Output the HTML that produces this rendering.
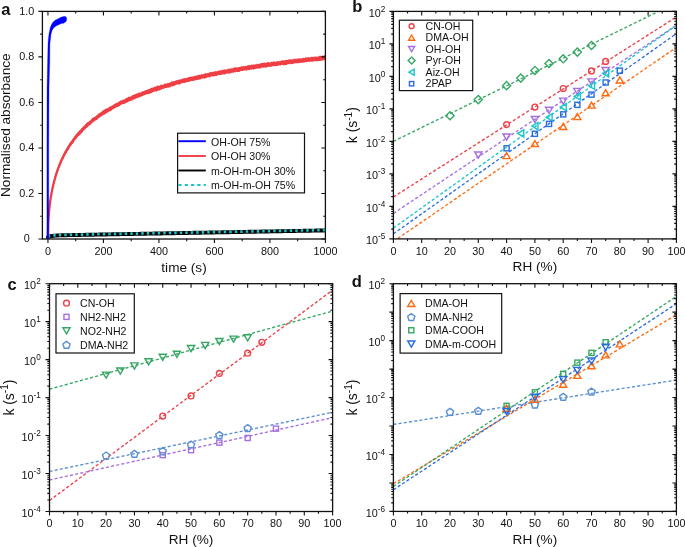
<!DOCTYPE html>
<html><head><meta charset="utf-8"><style>
html,body{margin:0;padding:0;background:#fff;width:685px;height:547px;overflow:hidden}
svg{display:block;will-change:transform}
text{font-family:"Liberation Sans",sans-serif}
</style></head><body>
<svg width="685" height="547" viewBox="0 0 685 547" font-family="'Liberation Sans', sans-serif" fill="#111">
<rect width="685" height="547" fill="#fff"/>
<defs>
<clipPath id="ca"><rect x="42.4" y="11.4" width="283" height="227.6"/></clipPath>
<clipPath id="cb"><rect x="393.4" y="11.4" width="283" height="227.5"/></clipPath>
<clipPath id="cc"><rect x="49.5" y="283.7" width="283.1" height="227.8"/></clipPath>
<clipPath id="cd"><rect x="393.4" y="283.7" width="283" height="227.7"/></clipPath>
</defs>
<g clip-path="url(#ca)" fill="none" stroke-linejoin="round" stroke-linecap="round">
<path d="M47.95 237L48.64 236.76L49.34 236.55L50.03 236.38L50.72 236.23L51.42 236.1L52.11 235.99L52.8 235.89L53.5 235.81L54.19 235.73L54.89 235.67L55.58 235.61L56.27 235.56L56.97 235.52L57.66 235.48L58.35 235.45L59.05 235.42L59.74 235.39L60.43 235.36L61.13 235.34L61.82 235.31L62.52 235.29L63.21 235.27L63.9 235.26L64.6 235.24L66.79 235.19L68.98 235.14L71.17 235.09L73.36 235.05L75.55 235.01L77.75 234.97L79.94 234.93L82.13 234.89L84.32 234.85L86.51 234.81L88.7 234.77L90.9 234.73L93.09 234.68L95.28 234.64L97.47 234.6L99.66 234.56L101.85 234.52L104.05 234.48L106.24 234.44L108.43 234.4L110.62 234.36L112.81 234.32L115 234.28L117.2 234.24L119.39 234.2L121.58 234.16L123.77 234.12L125.96 234.08L128.15 234.04L130.34 234L132.54 233.96L134.73 233.92L136.92 233.88L139.11 233.84L141.3 233.79L143.49 233.75L145.69 233.71L147.88 233.67L150.07 233.63L152.26 233.59L154.45 233.55L156.64 233.51L158.84 233.47L161.03 233.43L163.22 233.39L165.41 233.35L167.6 233.31L169.79 233.27L171.99 233.23L174.18 233.19L176.37 233.15L178.56 233.11L180.75 233.07L182.94 233.03L185.14 232.99L187.33 232.95L189.52 232.9L191.71 232.86L193.9 232.82L196.09 232.78L198.29 232.74L200.48 232.7L202.67 232.66L204.86 232.62L207.05 232.58L209.24 232.54L211.44 232.5L213.63 232.46L215.82 232.42L218.01 232.38L220.2 232.34L222.39 232.3L224.59 232.26L226.78 232.22L228.97 232.18L231.16 232.14L233.35 232.1L235.54 232.06L237.73 232.01L239.93 231.97L242.12 231.93L244.31 231.89L246.5 231.85L248.69 231.81L250.88 231.77L253.08 231.73L255.27 231.69L257.46 231.65L259.65 231.61L261.84 231.57L264.03 231.53L266.23 231.49L268.42 231.45L270.61 231.41L272.8 231.37L274.99 231.33L277.18 231.29L279.38 231.25L281.57 231.21L283.76 231.17L285.95 231.12L288.14 231.08L290.33 231.04L292.53 231L294.72 230.96L296.91 230.92L299.1 230.88L301.29 230.84L303.48 230.8L305.68 230.76L307.87 230.72L310.06 230.68L312.25 230.64L314.44 230.6L316.63 230.56L318.83 230.52L321.02 230.48L323.21 230.44L325.4 230.4" stroke="#000" stroke-width="3.9"/>
<path d="M47.95 236.66L48.64 236.42L49.34 236.21L50.03 236.04L50.72 235.88L51.42 235.76L52.11 235.64L52.8 235.55L53.5 235.46L54.19 235.39L54.89 235.33L55.58 235.27L56.27 235.22L56.97 235.18L57.66 235.14L58.35 235.11L59.05 235.07L59.74 235.05L60.43 235.02L61.13 235L61.82 234.97L62.52 234.95L63.21 234.93L63.9 234.91L64.6 234.9L66.79 234.84L68.98 234.8L71.17 234.75L73.36 234.71L75.55 234.67L77.75 234.63L79.94 234.59L82.13 234.55L84.32 234.51L86.51 234.46L88.7 234.42L90.9 234.38L93.09 234.34L95.28 234.3L97.47 234.26L99.66 234.22L101.85 234.18L104.05 234.14L106.24 234.1L108.43 234.06L110.62 234.02L112.81 233.98L115 233.94L117.2 233.9L119.39 233.86L121.58 233.82L123.77 233.78L125.96 233.74L128.15 233.7L130.34 233.66L132.54 233.62L134.73 233.57L136.92 233.53L139.11 233.49L141.3 233.45L143.49 233.41L145.69 233.37L147.88 233.33L150.07 233.29L152.26 233.25L154.45 233.21L156.64 233.17L158.84 233.13L161.03 233.09L163.22 233.05L165.41 233.01L167.6 232.97L169.79 232.93L171.99 232.89L174.18 232.85L176.37 232.81L178.56 232.77L180.75 232.73L182.94 232.68L185.14 232.64L187.33 232.6L189.52 232.56L191.71 232.52L193.9 232.48L196.09 232.44L198.29 232.4L200.48 232.36L202.67 232.32L204.86 232.28L207.05 232.24L209.24 232.2L211.44 232.16L213.63 232.12L215.82 232.08L218.01 232.04L220.2 232L222.39 231.96L224.59 231.92L226.78 231.88L228.97 231.84L231.16 231.79L233.35 231.75L235.54 231.71L237.73 231.67L239.93 231.63L242.12 231.59L244.31 231.55L246.5 231.51L248.69 231.47L250.88 231.43L253.08 231.39L255.27 231.35L257.46 231.31L259.65 231.27L261.84 231.23L264.03 231.19L266.23 231.15L268.42 231.11L270.61 231.07L272.8 231.03L274.99 230.99L277.18 230.95L279.38 230.9L281.57 230.86L283.76 230.82L285.95 230.78L288.14 230.74L290.33 230.7L292.53 230.66L294.72 230.62L296.91 230.58L299.1 230.54L301.29 230.5L303.48 230.46L305.68 230.42L307.87 230.38L310.06 230.34L312.25 230.3L314.44 230.26L316.63 230.22L318.83 230.18L321.02 230.14L323.21 230.1L325.4 230.06" stroke="#18c6c9" stroke-width="2.7" stroke-dasharray="2.4 3.1" stroke-linecap="butt"/>
<path d="M47.95 239L48.14 226.47L48.33 221.99L48.52 218.61L48.71 215.82L48.91 213.39L49.1 211.22L49.29 209.24L49.48 207.43L49.67 205.74L49.86 204.16L50.05 202.66L50.25 201.25L50.44 199.91L50.63 198.63L50.82 197.4L51.01 196.22L51.2 195.08L51.39 193.99L51.58 192.93L51.78 191.91L51.97 190.92L52.16 189.96L52.35 189.02L52.54 188.11L52.73 187.23L52.92 186.37L53.12 185.53L53.31 184.71L53.5 183.91L55.21 177.45L56.92 171.96L58.63 167.17L60.34 162.91L62.05 159.06L63.76 155.56L65.47 152.34L67.18 149.36L68.89 146.59L70.6 144L72.31 141.57L74.02 139.28L75.73 137.11L77.44 135.06L79.15 133.12L80.86 131.26L82.57 129.49L84.28 127.8L85.99 126.18L87.7 124.63L89.41 123.14L91.12 121.71L92.83 120.33L94.54 119L96.25 117.72L97.96 116.48L99.67 115.28L101.38 114.12L103.09 112.99L104.8 111.9L106.51 110.85L108.22 109.82L109.93 108.82L111.64 107.85L113.35 106.9L115.06 105.98L116.77 105.08L118.48 104.2L120.19 103.35L121.9 102.51L123.61 101.7L125.32 100.9L127.03 100.12L128.74 99.35L130.45 98.6L132.16 97.87L133.87 97.15L135.58 96.45L137.29 95.75L139 95.08L140.71 94.41L142.42 93.75L144.13 93.11L145.84 92.48L147.55 91.86L149.26 91.25L150.97 90.65L152.68 90.06L154.39 89.49L156.1 88.92L157.81 88.36L159.52 87.81L161.23 87.26L162.94 86.73L164.65 86.21L166.36 85.69L168.07 85.18L169.78 84.68L171.49 84.19L173.2 83.7L174.91 83.23L176.62 82.75L178.33 82.29L180.04 81.83L181.75 81.38L183.46 80.94L185.17 80.5L186.88 80.07L188.59 79.64L190.3 79.22L192.01 78.81L193.72 78.4L195.43 78L197.14 77.6L198.85 77.21L200.56 76.82L202.27 76.44L203.98 76.06L205.69 75.69L207.4 75.32L209.11 74.96L210.82 74.6L212.54 74.25L214.25 73.9L215.96 73.55L217.67 73.21L219.38 72.88L221.09 72.55L222.8 72.22L224.51 71.89L226.22 71.57L227.93 71.26L229.64 70.94L231.35 70.63L233.06 70.33L234.77 70.03L236.48 69.73L238.19 69.43L239.9 69.14L241.61 68.85L243.32 68.57L245.03 68.29L246.74 68.01L248.45 67.73L250.16 67.46L251.87 67.19L253.58 66.92L255.29 66.66L257 66.39L258.71 66.14L260.42 65.88L262.13 65.63L263.84 65.38L265.55 65.13L267.26 64.88L268.97 64.64L270.68 64.4L272.39 64.16L274.1 63.93L275.81 63.69L277.52 63.46L279.23 63.23L280.94 63.01L282.65 62.78L284.36 62.56L286.07 62.34L287.78 62.13L289.49 61.91L291.2 61.7L292.91 61.48L294.62 61.28L296.33 61.07L298.04 60.86L299.75 60.66L301.46 60.46L303.17 60.26L304.88 60.06L306.59 59.86L308.3 59.67L310.01 59.47L311.72 59.28L313.43 59.09L315.14 58.91L316.85 58.72L318.56 58.54L320.27 58.35L321.98 58.17L323.69 57.99L325.4 57.81" stroke="#ef3e44" stroke-width="2.3"/>
<path d="M47.95 236.65L48.45 217.49L48.95 210.53L49.45 205.36L49.95 201.13L50.45 197.48L50.95 194.25L51.45 191.33L51.95 188.66L52.45 186.2L52.95 183.91L53.45 181.76L54.2 178.7L54.95 175.64L55.7 173.28L56.45 171.44L57.2 168.54L57.95 166.64L58.7 165.03L59.45 162.31L60.2 160.99L60.95 159.57L61.7 157.24L62.45 155.92L63.2 154.71L63.95 152.52L64.7 151.45L65.45 150.26L66.2 148.86L66.95 147.38L67.7 145.9L68.45 144.94L69.2 143.65L69.95 142.61L70.7 141.39L71.44 140.74L72.19 139.62L72.94 138.19L73.69 137.42L74.44 136.18L75.19 135.39L75.94 134.37L76.69 133.74L77.44 132.59L78.19 131.81L78.94 131.19L79.69 130.09L80.44 129.72L81.19 128.27L81.94 128L82.69 126.95L83.44 126.21L84.19 125.66L84.94 124.84L85.69 124.04L86.44 122.97L87.19 122.37L87.94 122.26L88.69 121.44L89.44 120.94L90.19 120.54L90.94 119.67L91.69 118.49L92.44 118.12L93.19 117.78L93.94 116.88L94.69 116.95L95.44 116.37L96.19 115.73L96.94 114.84L97.69 114.63L98.44 113.46L99.19 113.09L99.94 112.71L100.69 112.45L101.44 111.72L102.19 110.91L102.94 110.6L103.69 110.1L104.44 109.6L105.19 109.01L105.94 108.77L106.69 108.34L107.44 108.18L108.19 107.75L108.94 107.07L109.69 106.57L110.44 106.43L111.19 106.1L111.94 105.49L112.69 105.19L113.44 104.9L114.19 103.68L114.94 104.03L115.69 103.1L116.44 102.88L117.19 102.78L117.94 102.33L118.69 101.43L119.44 101.52L120.19 100.61L120.94 100.51L121.69 100.55L122.44 99.84L123.19 99.64L123.94 99.4L124.69 99.13L125.44 98.73L126.19 97.71L126.94 97.74L127.68 97.44L128.43 96.74L129.18 96.85L129.93 96.58L130.68 96.45L131.43 96.23L132.18 95.18L132.93 94.95L133.68 95.02L134.43 94.24L135.18 94.01L135.93 94.02L136.68 93.35L137.43 93.6L138.18 93.37L138.93 92.33L139.68 92.49L140.43 92.43L141.18 92.31L141.93 91.39L142.68 91.01L143.43 91.36L144.18 91.11L144.93 90.19L145.68 90.14L146.43 90.11L147.18 89.96L147.93 89.08L148.68 89.26L149.43 89.12L150.18 88.62L150.93 88.02L151.68 87.64L152.43 87.6L153.18 87.82L153.93 86.88L154.68 86.6L155.43 86.67L156.18 86.15L156.93 85.98L157.68 85.62L158.43 85.83L159.18 85.74L159.93 85.26L160.68 84.76L161.43 84.7L162.18 84.7L162.93 84.78L163.68 84.6L164.43 83.69L165.18 83.26L165.93 83.77L166.68 83.63L167.43 82.99L168.18 83.05L168.93 82.91L169.68 82.46L170.43 82.48L171.18 81.5L171.93 81.51L172.68 81.3L173.43 80.95L174.18 81.45L174.93 80.45L175.68 80.82L176.43 80.07L177.18 80.13L177.93 79.98L178.68 79.56L179.43 79.67L180.18 79.48L180.93 79.09L181.68 79.27L182.43 78.55L183.18 78.39L183.92 78.34L184.67 78.17L185.42 77.82L186.17 78.27L186.92 78L187.67 77.17L188.42 77.22L189.17 76.91L189.92 76.92L190.67 76.58L191.42 76.6L192.17 76.8L192.92 76.13L193.67 76.2L194.42 75.97L195.17 75.93L195.92 75.14L196.67 75.58L197.42 75.59L198.17 75.11L198.92 74.65L199.67 74.83L200.42 74.69L201.17 74.47L201.92 73.85L202.67 74.43L203.42 74.24L204.17 73.6L204.92 73.59L205.67 72.93L206.42 73.62L207.17 73.31L207.92 72.99L208.67 72.94L209.42 72.26L210.17 72.22L210.92 72L211.67 72.16L212.42 71.55L213.17 72.12L213.92 71.58L214.67 71.41L215.42 70.96L216.17 71.33L216.92 71.3L217.67 70.98L218.42 70.48L219.17 70.82L219.92 70.1L220.67 70.57L221.42 70.2L222.17 69.8L222.92 69.86L223.67 69.82L224.42 69.34L225.17 69.73L225.92 69.21L226.67 69.49L227.42 69.3L228.17 68.5L228.92 68.86L229.67 68.42L230.42 68.68L231.17 68.35L231.92 68.14L232.67 68.4L233.42 67.52L234.17 67.83L234.92 67.5L235.67 67.1L236.42 67.62L237.17 67.31L237.92 67.48L238.67 67.09L239.42 66.73L240.17 67.18L240.91 66.27L241.66 66.09L242.41 66.58L243.16 66.13L243.91 65.99L244.66 66.33L245.41 65.72L246.16 66.1L246.91 65.76L247.66 65.35L248.41 64.99L249.16 65.04L249.91 65.57L250.66 64.94L251.41 64.6L252.16 64.61L252.91 65.03L253.66 64.26L254.41 64.69L255.16 64L255.91 64.63L256.66 64.12L257.41 63.57L258.16 64.26L258.91 63.63L259.66 63.85L260.41 63.55L261.16 63.05L261.91 62.95L262.66 62.88L263.41 62.78L264.16 62.58L264.91 62.46L265.66 63.17L266.41 62.29L267.16 62.56L267.91 62.1L268.66 62.08L269.41 62.47L270.16 62.52L270.91 61.99L271.66 61.47L272.41 62.26L273.16 61.3L273.91 61.5L274.66 61.54L275.41 61.75L276.16 61.59L276.91 61.29L277.66 61L278.41 61.3L279.16 61.23L279.91 61.13L280.66 60.89L281.41 60.23L282.16 60.32L282.91 60.39L283.66 60.31L284.41 60.51L285.16 59.87L285.91 60.16L286.66 59.8L287.41 60.07L288.16 59.45L288.91 59.61L289.66 59.18L290.41 59.19L291.16 59.74L291.91 59.09L292.66 59.52L293.41 59.1L294.16 58.57L294.91 59.15L295.66 58.4L296.41 59L297.15 58.18L297.9 58.68L298.65 58.14L299.4 58.21L300.15 58.67L300.9 58.16L301.65 58.23L302.4 58.21L303.15 57.56L303.9 58.13L304.65 58.11L305.4 57.34L306.15 57.6L306.9 57.28L307.65 57.61L308.4 56.88L309.15 57.23L309.9 57.4L310.65 57.26L311.4 56.62L312.15 57.18L312.9 56.57L313.65 57L314.4 56.63L315.15 56.25L315.9 56.68L316.65 56.67L317.4 56.49L318.15 56.65L318.9 55.93L319.65 55.83L320.4 55.67L321.15 55.94L321.9 55.74L322.65 55.62L323.4 55.64L324.15 55.39L324.9 55.07L325.65 55.44L325.65 60.29L324.9 60.45L324.15 60L323.4 60.15L322.65 60.47L321.9 60.82L321.15 60.45L320.4 61.04L319.65 61.04L318.9 61.03L318.15 61.2L317.4 61.21L316.65 61.18L315.9 61.19L315.15 61.22L314.4 61.07L313.65 61.68L312.9 61.34L312.15 62.03L311.4 61.59L310.65 61.44L309.9 61.92L309.15 61.97L308.4 61.85L307.65 61.83L306.9 62.32L306.15 62.29L305.4 61.97L304.65 62.64L303.9 62.29L303.15 63L302.4 62.54L301.65 62.46L300.9 63.17L300.15 62.78L299.4 63.08L298.65 63.58L297.9 62.83L297.15 63.44L296.41 63.23L295.66 63.09L294.91 63.49L294.16 63.36L293.41 63.67L292.66 64.15L291.91 63.97L291.16 64.1L290.41 63.83L289.66 64.57L288.91 63.94L288.16 64.28L287.41 64.33L286.66 64.99L285.91 64.89L285.16 65.19L284.41 65.13L283.66 65.26L282.91 65.01L282.16 65.32L281.41 64.86L280.66 65.45L279.91 65.75L279.16 65.36L278.41 65.45L277.66 66.08L276.91 66.27L276.16 65.91L275.41 66.22L274.66 65.89L273.91 66.2L273.16 66.27L272.41 66.33L271.66 66.84L270.91 66.68L270.16 66.75L269.41 66.82L268.66 66.96L267.91 66.99L267.16 66.9L266.41 67.7L265.66 67.75L264.91 67.61L264.16 67.4L263.41 67.85L262.66 67.5L261.91 67.7L261.16 67.82L260.41 68.41L259.66 68.69L258.91 68.23L258.16 68.63L257.41 68.6L256.66 68.41L255.91 69.18L255.16 68.74L254.41 69.2L253.66 69.7L252.91 68.92L252.16 69.81L251.41 69.56L250.66 69.52L249.91 69.95L249.16 70.26L248.41 69.94L247.66 69.98L246.91 70.6L246.16 70.84L245.41 70.17L244.66 70.3L243.91 71.01L243.16 70.54L242.41 70.97L241.66 70.98L240.91 71L240.17 71.37L239.42 71.91L238.67 71.91L237.92 72.01L237.17 72.09L236.42 71.78L235.67 72.38L234.92 72.19L234.17 72.06L233.42 72.91L232.67 72.53L231.92 73.04L231.17 72.63L230.42 73.27L229.67 73.69L228.92 73.51L228.17 73.73L227.42 73.29L226.67 74.12L225.92 73.53L225.17 74.49L224.42 74.53L223.67 74.44L222.92 74.17L222.17 74.85L221.42 75.08L220.67 74.79L219.92 74.99L219.17 75.27L218.42 74.98L217.67 75.26L216.92 76.02L216.17 75.88L215.42 75.99L214.67 75.92L213.92 76.58L213.17 76.41L212.42 76.23L211.67 76.37L210.92 76.62L210.17 77.5L209.42 77.45L208.67 77.24L207.92 77.29L207.17 77.74L206.42 77.84L205.67 78.37L204.92 78.39L204.17 78.7L203.42 78.31L202.67 78.81L201.92 78.83L201.17 78.86L200.42 79.53L199.67 79.63L198.92 79.21L198.17 80.06L197.42 80.1L196.67 80.24L195.92 79.92L195.17 80.32L194.42 80.99L193.67 80.56L192.92 81.19L192.17 80.78L191.42 81.11L190.67 81.22L189.92 81.66L189.17 81.54L188.42 81.94L187.67 82.36L186.92 82.05L186.17 82.49L185.42 82.56L184.67 82.99L183.92 83.11L183.18 82.94L182.43 83.11L181.68 83.55L180.93 83.61L180.18 84.09L179.43 84.72L178.68 84.45L177.93 84.57L177.18 84.6L176.43 84.83L175.68 84.93L174.93 85.82L174.18 85.4L173.43 86.36L172.68 86.57L171.93 86.13L171.18 86.25L170.43 87.2L169.68 87.2L168.93 87.46L168.18 87.83L167.43 87.52L166.68 88.17L165.93 88.05L165.18 87.98L164.43 88.38L163.68 88.88L162.93 88.85L162.18 89.07L161.43 89.63L160.68 89.76L159.93 90.41L159.18 90.42L158.43 90.61L157.68 90.78L156.93 91.42L156.18 91.67L155.43 91.05L154.68 91.58L153.93 92.09L153.18 91.9L152.43 92.39L151.68 93.09L150.93 93.41L150.18 93.35L149.43 93.92L148.68 94.22L147.93 93.95L147.18 94.18L146.43 94.2L145.68 94.87L144.93 95.16L144.18 95.33L143.43 95.39L142.68 96.34L141.93 95.86L141.18 96.94L140.43 96.85L139.68 97.15L138.93 97.87L138.18 97.6L137.43 98.17L136.68 98.35L135.93 98.34L135.18 99.4L134.43 99.36L133.68 99.23L132.93 100.18L132.18 100.23L131.43 100.74L130.68 100.93L129.93 100.98L129.18 101.48L128.43 101.72L127.68 102.24L126.94 102.93L126.19 102.63L125.44 102.93L124.69 103.9L123.94 104.31L123.19 103.89L122.44 104.25L121.69 104.54L120.94 105.03L120.19 105.32L119.44 106.25L118.69 106.62L117.94 107.1L117.19 106.98L116.44 107.22L115.69 107.9L114.94 108.03L114.19 108.68L113.44 109.21L112.69 109.28L111.94 110.33L111.19 110.71L110.44 111.32L109.69 111.3L108.94 111.63L108.19 112.21L107.44 112.65L106.69 113.27L105.94 113.47L105.19 114.19L104.44 114.81L103.69 114.69L102.94 115.3L102.19 115.71L101.44 116.33L100.69 117.07L99.94 117.37L99.19 117.7L98.44 118.13L97.69 119.34L96.94 119.96L96.19 120.18L95.44 120.42L94.69 121.29L93.94 121.56L93.19 122.28L92.44 122.77L91.69 123.27L90.94 124.5L90.19 125.2L89.44 125.35L88.69 125.98L87.94 126.86L87.19 127.85L86.44 128.08L85.69 128.65L84.94 129.31L84.19 130.61L83.44 130.57L82.69 132.13L81.94 132.87L81.19 133.66L80.44 134.43L79.69 135.25L78.94 135.83L78.19 136.19L77.44 137.55L76.69 138.35L75.94 139.19L75.19 139.86L74.44 140.89L73.69 142.5L72.94 143.46L72.19 144.35L71.44 145.2L70.7 146.07L69.95 147.08L69.2 148.79L68.45 150L67.7 150.51L66.95 152.54L66.2 153.3L65.45 154.6L64.7 156.11L63.95 157.82L63.2 159.4L62.45 160.52L61.7 161.95L60.95 163.9L60.2 165.98L59.45 167.24L58.7 169.53L57.95 171.31L57.2 173.69L56.45 175.77L55.7 178.28L54.95 181.17L54.2 183.38L53.45 186.46L52.95 188.61L52.45 190.9L51.95 193.36L51.45 196.03L50.95 198.95L50.45 202.18L49.95 205.83L49.45 210.06L48.95 215.23L48.45 222.19L47.95 241.35Z" fill="#ef3e44" stroke="none"/>
<path d="M46.9 239.5L46.9 150L47.05 88L47.6 61L48 44L48.4 38.7L49.1 33.2L49.7 30.4L50.2 27.7L51.3 25L52.9 22.2L55.4 20L58.2 18.7L60.9 17.3L63.6 16.5L65.6 16.5L66.5 17.6L66.7 19.5L66.3 21L65.8 21.7L63.6 23.3L61.4 23.6L58.7 24.7L56 26.1L53.8 27.7L52.1 30.4L51 34.3L50.5 38.7L49.9 44L49.75 61L49 88L48.75 150L48.75 239.5Z" fill="#0000ff" stroke="#0000ff" stroke-width="0.3"/>
</g>
<rect x="42.4" y="11.4" width="283" height="227.6" fill="none" stroke="#111" stroke-width="1.3"/>
<path d="M47.95 239v4M47.95 11.4v4M103.44 239v4M103.44 11.4v4M158.93 239v4M158.93 11.4v4M214.42 239v4M214.42 11.4v4M269.91 239v4M269.91 11.4v4M325.4 239v4M325.4 11.4v4M75.69 239v2.2M75.69 11.4v2.2M131.18 239v2.2M131.18 11.4v2.2M186.67 239v2.2M186.67 11.4v2.2M242.16 239v2.2M242.16 11.4v2.2M297.65 239v2.2M297.65 11.4v2.2" stroke="#111" stroke-width="1.1" fill="none"/>
<text x="47.95" y="254.9" text-anchor="middle" font-size="10.8">0</text>
<text x="103.44" y="254.9" text-anchor="middle" font-size="10.8">200</text>
<text x="158.93" y="254.9" text-anchor="middle" font-size="10.8">400</text>
<text x="214.42" y="254.9" text-anchor="middle" font-size="10.8">600</text>
<text x="269.91" y="254.9" text-anchor="middle" font-size="10.8">800</text>
<text x="325.4" y="254.9" text-anchor="middle" font-size="10.8">1000</text>
<path d="M42.4 239h-4M325.4 239h-4M42.4 193.48h-4M325.4 193.48h-4M42.4 147.96h-4M325.4 147.96h-4M42.4 102.44h-4M325.4 102.44h-4M42.4 56.92h-4M325.4 56.92h-4M42.4 11.4h-4M325.4 11.4h-4M42.4 216.24h-2.2M325.4 216.24h-2.2M42.4 170.72h-2.2M325.4 170.72h-2.2M42.4 125.2h-2.2M325.4 125.2h-2.2M42.4 79.68h-2.2M325.4 79.68h-2.2M42.4 34.16h-2.2M325.4 34.16h-2.2" stroke="#111" stroke-width="1.1" fill="none"/>
<text x="26.8" y="242.4" text-anchor="middle" font-size="10.8">0</text>
<text x="26.8" y="196.88" text-anchor="middle" font-size="10.8">0.2</text>
<text x="26.8" y="151.36" text-anchor="middle" font-size="10.8">0.4</text>
<text x="26.8" y="105.84" text-anchor="middle" font-size="10.8">0.6</text>
<text x="26.8" y="60.32" text-anchor="middle" font-size="10.8">0.8</text>
<text x="26.8" y="14.8" text-anchor="middle" font-size="10.8">1.0</text>
<text x="184" y="271.6" text-anchor="middle" font-size="13.6">time (s)</text>
<text transform="translate(9.9 125.2) rotate(-90)" text-anchor="middle" font-size="13.6">Normalised absorbance</text>
<rect x="177.6" y="133.2" width="126.9" height="59.7" fill="#fff" stroke="#111" stroke-width="1.2"/>
<path d="M178.4 141.2H205.8" stroke="#0000ff" stroke-width="1.9"/>
<text x="211" y="145.5" font-size="10.6">OH-OH 75%</text>
<path d="M178.4 156H205.8" stroke="#ef3e44" stroke-width="1.9"/>
<text x="211" y="160.3" font-size="10.6">OH-OH 30%</text>
<path d="M178.4 170.5H205.8" stroke="#000" stroke-width="1.9"/>
<text x="211" y="174.8" font-size="10.6">m-OH-m-OH 30%</text>
<path d="M178.4 185H205.8" stroke="#18c6c9" stroke-width="1.9" stroke-dasharray="3.2 3.1"/>
<text x="211" y="189.3" font-size="10.6">m-OH-m-OH 75%</text>
<path d="M393.4 141.4L676.4 2.62" stroke="#35a763" stroke-width="1.35" stroke-dasharray="3.1 2.15" fill="none" clip-path="url(#cb)"/>
<path d="M393.4 196.97L676.4 16.92" stroke="#ec4148" stroke-width="1.35" stroke-dasharray="3.1 2.15" fill="none" clip-path="url(#cb)"/>
<path d="M393.4 213.39L676.4 25.21" stroke="#a66fe0" stroke-width="1.35" stroke-dasharray="3.1 2.15" fill="none" clip-path="url(#cb)"/>
<path d="M393.4 228.11L676.4 25.31" stroke="#18c6c9" stroke-width="1.35" stroke-dasharray="3.1 2.15" fill="none" clip-path="url(#cb)"/>
<path d="M393.4 233.8L676.4 33.6" stroke="#2a6ce0" stroke-width="1.35" stroke-dasharray="3.1 2.15" fill="none" clip-path="url(#cb)"/>
<path d="M393.4 241.44L676.4 47.41" stroke="#ff6a10" stroke-width="1.35" stroke-dasharray="3.1 2.15" fill="none" clip-path="url(#cb)"/>
<path d="M450 111.62L454.1 115.72L450 119.82L445.9 115.72Z" fill="none" stroke="#35a763" stroke-width="1.4"/>
<path d="M478.3 95.51L482.4 99.61L478.3 103.71L474.2 99.61Z" fill="none" stroke="#35a763" stroke-width="1.4"/>
<path d="M506.6 81.59L510.7 85.69L506.6 89.79L502.5 85.69Z" fill="none" stroke="#35a763" stroke-width="1.4"/>
<path d="M520.75 73.99L524.85 78.09L520.75 82.19L516.65 78.09Z" fill="none" stroke="#35a763" stroke-width="1.4"/>
<path d="M534.9 66.38L539 70.48L534.9 74.58L530.8 70.48Z" fill="none" stroke="#35a763" stroke-width="1.4"/>
<path d="M549.05 59.4L553.15 63.5L549.05 67.6L544.95 63.5Z" fill="none" stroke="#35a763" stroke-width="1.4"/>
<path d="M563.2 54.68L567.3 58.78L563.2 62.88L559.1 58.78Z" fill="none" stroke="#35a763" stroke-width="1.4"/>
<path d="M577.35 47.99L581.45 52.09L577.35 56.19L573.25 52.09Z" fill="none" stroke="#35a763" stroke-width="1.4"/>
<path d="M591.5 41.39L595.6 45.49L591.5 49.59L587.4 45.49Z" fill="none" stroke="#35a763" stroke-width="1.4"/>
<circle cx="506.6" cy="124.6" r="2.9" fill="none" stroke="#ec4148" stroke-width="1.4"/>
<circle cx="534.9" cy="107.05" r="2.9" fill="none" stroke="#ec4148" stroke-width="1.4"/>
<circle cx="563.2" cy="88.49" r="2.9" fill="none" stroke="#ec4148" stroke-width="1.4"/>
<circle cx="591.5" cy="70.91" r="2.9" fill="none" stroke="#ec4148" stroke-width="1.4"/>
<circle cx="605.65" cy="61.39" r="2.9" fill="none" stroke="#ec4148" stroke-width="1.4"/>
<path d="M478.3 158.04L481.9 151.94L474.7 151.94Z" fill="none" stroke="#a66fe0" stroke-width="1.4"/>
<path d="M506.6 140.06L510.2 133.96L503 133.96Z" fill="none" stroke="#a66fe0" stroke-width="1.4"/>
<path d="M534.9 122.55L538.5 116.45L531.3 116.45Z" fill="none" stroke="#a66fe0" stroke-width="1.4"/>
<path d="M549.05 113.35L552.65 107.25L545.45 107.25Z" fill="none" stroke="#a66fe0" stroke-width="1.4"/>
<path d="M563.2 104.25L566.8 98.15L559.6 98.15Z" fill="none" stroke="#a66fe0" stroke-width="1.4"/>
<path d="M577.35 94.46L580.95 88.36L573.75 88.36Z" fill="none" stroke="#a66fe0" stroke-width="1.4"/>
<path d="M591.5 84.94L595.1 78.84L587.9 78.84Z" fill="none" stroke="#a66fe0" stroke-width="1.4"/>
<path d="M605.65 73.53L609.25 67.43L602.05 67.43Z" fill="none" stroke="#a66fe0" stroke-width="1.4"/>
<path d="M517.7 133.41L523.8 129.81L523.8 137.01Z" fill="none" stroke="#18c6c9" stroke-width="1.4"/>
<path d="M531.85 126.06L537.95 122.46L537.95 129.66Z" fill="none" stroke="#18c6c9" stroke-width="1.4"/>
<path d="M546 117.32L552.1 113.72L552.1 120.92Z" fill="none" stroke="#18c6c9" stroke-width="1.4"/>
<path d="M560.15 107.05L566.25 103.45L566.25 110.65Z" fill="none" stroke="#18c6c9" stroke-width="1.4"/>
<path d="M574.3 96.39L580.4 92.79L580.4 99.99Z" fill="none" stroke="#18c6c9" stroke-width="1.4"/>
<path d="M588.45 85.79L594.55 82.19L594.55 89.39Z" fill="none" stroke="#18c6c9" stroke-width="1.4"/>
<path d="M602.6 73.41L608.7 69.81L608.7 77.01Z" fill="none" stroke="#18c6c9" stroke-width="1.4"/>
<rect x="504.05" y="145.74" width="5.1" height="5.1" fill="none" stroke="#2a6ce0" stroke-width="1.4"/>
<rect x="532.35" y="131.25" width="5.1" height="5.1" fill="none" stroke="#2a6ce0" stroke-width="1.4"/>
<rect x="546.5" y="121.37" width="5.1" height="5.1" fill="none" stroke="#2a6ce0" stroke-width="1.4"/>
<rect x="560.65" y="111.84" width="5.1" height="5.1" fill="none" stroke="#2a6ce0" stroke-width="1.4"/>
<rect x="574.8" y="102.29" width="5.1" height="5.1" fill="none" stroke="#2a6ce0" stroke-width="1.4"/>
<rect x="588.95" y="92.05" width="5.1" height="5.1" fill="none" stroke="#2a6ce0" stroke-width="1.4"/>
<rect x="603.1" y="79.96" width="5.1" height="5.1" fill="none" stroke="#2a6ce0" stroke-width="1.4"/>
<rect x="617.25" y="68.16" width="5.1" height="5.1" fill="none" stroke="#2a6ce0" stroke-width="1.4"/>
<path d="M506.6 152.55L510.2 158.65L503 158.65Z" stroke-linejoin="miter" fill="none" stroke="#ff6a10" stroke-width="1.4"/>
<path d="M534.9 140.56L538.5 146.66L531.3 146.66Z" stroke-linejoin="miter" fill="none" stroke="#ff6a10" stroke-width="1.4"/>
<path d="M563.2 123.47L566.8 129.56L559.6 129.56Z" stroke-linejoin="miter" fill="none" stroke="#ff6a10" stroke-width="1.4"/>
<path d="M577.35 113.49L580.95 119.59L573.75 119.59Z" stroke-linejoin="miter" fill="none" stroke="#ff6a10" stroke-width="1.4"/>
<path d="M591.5 102.05L595.1 108.15L587.9 108.15Z" stroke-linejoin="miter" fill="none" stroke="#ff6a10" stroke-width="1.4"/>
<path d="M605.65 89.67L609.25 95.77L602.05 95.77Z" stroke-linejoin="miter" fill="none" stroke="#ff6a10" stroke-width="1.4"/>
<path d="M619.8 76.93L623.4 83.03L616.2 83.03Z" stroke-linejoin="miter" fill="none" stroke="#ff6a10" stroke-width="1.4"/>
<rect x="393.4" y="11.4" width="283" height="227.5" fill="none" stroke="#111" stroke-width="1.3"/>
<path d="M393.4 238.9v4M393.4 11.4v4M421.7 238.9v4M421.7 11.4v4M450 238.9v4M450 11.4v4M478.3 238.9v4M478.3 11.4v4M506.6 238.9v4M506.6 11.4v4M534.9 238.9v4M534.9 11.4v4M563.2 238.9v4M563.2 11.4v4M591.5 238.9v4M591.5 11.4v4M619.8 238.9v4M619.8 11.4v4M648.1 238.9v4M648.1 11.4v4M676.4 238.9v4M676.4 11.4v4M407.55 238.9v2.2M407.55 11.4v2.2M435.85 238.9v2.2M435.85 11.4v2.2M464.15 238.9v2.2M464.15 11.4v2.2M492.45 238.9v2.2M492.45 11.4v2.2M520.75 238.9v2.2M520.75 11.4v2.2M549.05 238.9v2.2M549.05 11.4v2.2M577.35 238.9v2.2M577.35 11.4v2.2M605.65 238.9v2.2M605.65 11.4v2.2M633.95 238.9v2.2M633.95 11.4v2.2M662.25 238.9v2.2M662.25 11.4v2.2" stroke="#111" stroke-width="1.1" fill="none"/>
<text x="393.4" y="254.8" text-anchor="middle" font-size="10.8">0</text>
<text x="421.7" y="254.8" text-anchor="middle" font-size="10.8">10</text>
<text x="450" y="254.8" text-anchor="middle" font-size="10.8">20</text>
<text x="478.3" y="254.8" text-anchor="middle" font-size="10.8">30</text>
<text x="506.6" y="254.8" text-anchor="middle" font-size="10.8">40</text>
<text x="534.9" y="254.8" text-anchor="middle" font-size="10.8">50</text>
<text x="563.2" y="254.8" text-anchor="middle" font-size="10.8">60</text>
<text x="591.5" y="254.8" text-anchor="middle" font-size="10.8">70</text>
<text x="619.8" y="254.8" text-anchor="middle" font-size="10.8">80</text>
<text x="648.1" y="254.8" text-anchor="middle" font-size="10.8">90</text>
<text x="676.4" y="254.8" text-anchor="middle" font-size="10.8">100</text>
<path d="M393.4 238.9h-4M676.4 238.9h-4M393.4 206.4h-4M676.4 206.4h-4M393.4 173.9h-4M676.4 173.9h-4M393.4 141.4h-4M676.4 141.4h-4M393.4 108.9h-4M676.4 108.9h-4M393.4 76.4h-4M676.4 76.4h-4M393.4 43.9h-4M676.4 43.9h-4M393.4 11.4h-4M676.4 11.4h-4M393.4 229.12h-2.2M676.4 229.12h-2.2M393.4 223.39h-2.2M676.4 223.39h-2.2M393.4 219.33h-2.2M676.4 219.33h-2.2M393.4 216.18h-2.2M676.4 216.18h-2.2M393.4 213.61h-2.2M676.4 213.61h-2.2M393.4 211.43h-2.2M676.4 211.43h-2.2M393.4 209.55h-2.2M676.4 209.55h-2.2M393.4 207.89h-2.2M676.4 207.89h-2.2M393.4 196.62h-2.2M676.4 196.62h-2.2M393.4 190.89h-2.2M676.4 190.89h-2.2M393.4 186.83h-2.2M676.4 186.83h-2.2M393.4 183.68h-2.2M676.4 183.68h-2.2M393.4 181.11h-2.2M676.4 181.11h-2.2M393.4 178.93h-2.2M676.4 178.93h-2.2M393.4 177.05h-2.2M676.4 177.05h-2.2M393.4 175.39h-2.2M676.4 175.39h-2.2M393.4 164.12h-2.2M676.4 164.12h-2.2M393.4 158.39h-2.2M676.4 158.39h-2.2M393.4 154.33h-2.2M676.4 154.33h-2.2M393.4 151.18h-2.2M676.4 151.18h-2.2M393.4 148.61h-2.2M676.4 148.61h-2.2M393.4 146.43h-2.2M676.4 146.43h-2.2M393.4 144.55h-2.2M676.4 144.55h-2.2M393.4 142.89h-2.2M676.4 142.89h-2.2M393.4 131.62h-2.2M676.4 131.62h-2.2M393.4 125.89h-2.2M676.4 125.89h-2.2M393.4 121.83h-2.2M676.4 121.83h-2.2M393.4 118.68h-2.2M676.4 118.68h-2.2M393.4 116.11h-2.2M676.4 116.11h-2.2M393.4 113.93h-2.2M676.4 113.93h-2.2M393.4 112.05h-2.2M676.4 112.05h-2.2M393.4 110.39h-2.2M676.4 110.39h-2.2M393.4 99.12h-2.2M676.4 99.12h-2.2M393.4 93.39h-2.2M676.4 93.39h-2.2M393.4 89.33h-2.2M676.4 89.33h-2.2M393.4 86.18h-2.2M676.4 86.18h-2.2M393.4 83.61h-2.2M676.4 83.61h-2.2M393.4 81.43h-2.2M676.4 81.43h-2.2M393.4 79.55h-2.2M676.4 79.55h-2.2M393.4 77.89h-2.2M676.4 77.89h-2.2M393.4 66.62h-2.2M676.4 66.62h-2.2M393.4 60.89h-2.2M676.4 60.89h-2.2M393.4 56.83h-2.2M676.4 56.83h-2.2M393.4 53.68h-2.2M676.4 53.68h-2.2M393.4 51.11h-2.2M676.4 51.11h-2.2M393.4 48.93h-2.2M676.4 48.93h-2.2M393.4 47.05h-2.2M676.4 47.05h-2.2M393.4 45.39h-2.2M676.4 45.39h-2.2M393.4 34.12h-2.2M676.4 34.12h-2.2M393.4 28.39h-2.2M676.4 28.39h-2.2M393.4 24.33h-2.2M676.4 24.33h-2.2M393.4 21.18h-2.2M676.4 21.18h-2.2M393.4 18.61h-2.2M676.4 18.61h-2.2M393.4 16.43h-2.2M676.4 16.43h-2.2M393.4 14.55h-2.2M676.4 14.55h-2.2M393.4 12.89h-2.2M676.4 12.89h-2.2" stroke="#111" stroke-width="1.1" fill="none"/>
<text x="385.3" y="244.1" text-anchor="end" font-size="10.8">10<tspan font-size="8.2" dy="-4.8">-5</tspan></text>
<text x="385.3" y="211.6" text-anchor="end" font-size="10.8">10<tspan font-size="8.2" dy="-4.8">-4</tspan></text>
<text x="385.3" y="179.1" text-anchor="end" font-size="10.8">10<tspan font-size="8.2" dy="-4.8">-3</tspan></text>
<text x="385.3" y="146.6" text-anchor="end" font-size="10.8">10<tspan font-size="8.2" dy="-4.8">-2</tspan></text>
<text x="385.3" y="114.1" text-anchor="end" font-size="10.8">10<tspan font-size="8.2" dy="-4.8">-1</tspan></text>
<text x="385.3" y="81.6" text-anchor="end" font-size="10.8">10<tspan font-size="8.2" dy="-4.8">0</tspan></text>
<text x="385.3" y="49.1" text-anchor="end" font-size="10.8">10<tspan font-size="8.2" dy="-4.8">1</tspan></text>
<text x="385.3" y="16.6" text-anchor="end" font-size="10.8">10<tspan font-size="8.2" dy="-4.8">2</tspan></text>
<text x="534.9" y="270.9" text-anchor="middle" font-size="13.6">RH (%)</text>
<text transform="translate(357.3 125.2) rotate(-90)" text-anchor="middle" font-size="13.9">k (s<tspan font-size="10" dy="-5.6">-1</tspan><tspan dy="5.6">)</tspan></text>
<rect x="399.4" y="20.2" width="73.3" height="70.4" fill="#fff" stroke="#111" stroke-width="1.2"/>
<circle cx="411.6" cy="26.2" r="2.46" fill="none" stroke="#ec4148" stroke-width="1.4"/>
<text x="425.6" y="29.9" font-size="10.6">CN-OH</text>
<path d="M411.6 35.01L414.66 40.19L408.54 40.19Z" stroke-linejoin="miter" fill="none" stroke="#ff6a10" stroke-width="1.4"/>
<text x="425.6" y="41.3" font-size="10.6">DMA-OH</text>
<path d="M411.6 51.69L414.66 46.51L408.54 46.51Z" fill="none" stroke="#a66fe0" stroke-width="1.4"/>
<text x="425.6" y="52.8" font-size="10.6">OH-OH</text>
<path d="M411.6 57.12L415.09 60.6L411.6 64.09L408.12 60.6Z" fill="none" stroke="#35a763" stroke-width="1.4"/>
<text x="425.6" y="64.3" font-size="10.6">Pyr-OH</text>
<path d="M409.01 72.2L414.19 69.14L414.19 75.26Z" fill="none" stroke="#18c6c9" stroke-width="1.4"/>
<text x="425.6" y="75.9" font-size="10.6">Aiz-OH</text>
<rect x="409.43" y="81.53" width="4.33" height="4.33" fill="none" stroke="#2a6ce0" stroke-width="1.4"/>
<text x="425.6" y="87.4" font-size="10.6">2PAP</text>
<path d="M49.5 389.17L332.6 311.07" stroke="#35a763" stroke-width="1.35" stroke-dasharray="3.1 2.15" fill="none" clip-path="url(#cc)"/>
<path d="M49.5 500.49L332.6 290.15" stroke="#ec4148" stroke-width="1.35" stroke-dasharray="3.1 2.15" fill="none" clip-path="url(#cc)"/>
<path d="M49.5 471.45L332.6 412.26" stroke="#5a90d2" stroke-width="1.35" stroke-dasharray="3.1 2.15" fill="none" clip-path="url(#cc)"/>
<path d="M49.5 479.99L332.6 417.65" stroke="#a66fe0" stroke-width="1.35" stroke-dasharray="3.1 2.15" fill="none" clip-path="url(#cc)"/>
<path d="M106.12 378.21L109.72 372.11L102.52 372.11Z" fill="none" stroke="#35a763" stroke-width="1.4"/>
<path d="M120.28 374.11L123.88 368.01L116.68 368.01Z" fill="none" stroke="#35a763" stroke-width="1.4"/>
<path d="M134.43 369.02L138.03 362.92L130.83 362.92Z" fill="none" stroke="#35a763" stroke-width="1.4"/>
<path d="M148.59 364.92L152.19 358.82L144.99 358.82Z" fill="none" stroke="#35a763" stroke-width="1.4"/>
<path d="M162.74 360.41L166.34 354.31L159.14 354.31Z" fill="none" stroke="#35a763" stroke-width="1.4"/>
<path d="M176.9 357.33L180.5 351.23L173.3 351.23Z" fill="none" stroke="#35a763" stroke-width="1.4"/>
<path d="M191.05 351.64L194.65 345.54L187.45 345.54Z" fill="none" stroke="#35a763" stroke-width="1.4"/>
<path d="M205.21 348.52L208.81 342.42L201.61 342.42Z" fill="none" stroke="#35a763" stroke-width="1.4"/>
<path d="M219.36 344.54L222.96 338.44L215.76 338.44Z" fill="none" stroke="#35a763" stroke-width="1.4"/>
<path d="M233.52 342.18L237.12 336.08L229.92 336.08Z" fill="none" stroke="#35a763" stroke-width="1.4"/>
<path d="M247.67 340.85L251.27 334.75L244.07 334.75Z" fill="none" stroke="#35a763" stroke-width="1.4"/>
<circle cx="162.74" cy="416.05" r="2.9" fill="none" stroke="#ec4148" stroke-width="1.4"/>
<circle cx="191.05" cy="395.97" r="2.9" fill="none" stroke="#ec4148" stroke-width="1.4"/>
<circle cx="219.36" cy="373.45" r="2.9" fill="none" stroke="#ec4148" stroke-width="1.4"/>
<circle cx="247.67" cy="353.18" r="2.9" fill="none" stroke="#ec4148" stroke-width="1.4"/>
<circle cx="261.83" cy="342.28" r="2.9" fill="none" stroke="#ec4148" stroke-width="1.4"/>
<rect x="160.19" y="452.57" width="5.1" height="5.1" fill="none" stroke="#a66fe0" stroke-width="1.4"/>
<rect x="188.5" y="447.6" width="5.1" height="5.1" fill="none" stroke="#a66fe0" stroke-width="1.4"/>
<rect x="216.81" y="440.08" width="5.1" height="5.1" fill="none" stroke="#a66fe0" stroke-width="1.4"/>
<rect x="245.12" y="435.41" width="5.1" height="5.1" fill="none" stroke="#a66fe0" stroke-width="1.4"/>
<rect x="273.43" y="426.11" width="5.1" height="5.1" fill="none" stroke="#a66fe0" stroke-width="1.4"/>
<path d="M106.12 452.04L109.73 454.66L108.35 458.91L103.89 458.91L102.51 454.66Z" fill="none" stroke="#5a90d2" stroke-width="1.4"/>
<path d="M134.43 450.44L138.04 453.07L136.66 457.32L132.2 457.32L130.82 453.07Z" fill="none" stroke="#5a90d2" stroke-width="1.4"/>
<path d="M162.74 447.56L166.35 450.18L164.97 454.43L160.51 454.43L159.13 450.18Z" fill="none" stroke="#5a90d2" stroke-width="1.4"/>
<path d="M191.05 441.03L194.66 443.65L193.28 447.9L188.82 447.9L187.44 443.65Z" fill="none" stroke="#5a90d2" stroke-width="1.4"/>
<path d="M219.36 431.65L222.97 434.27L221.59 438.52L217.13 438.52L215.75 434.27Z" fill="none" stroke="#5a90d2" stroke-width="1.4"/>
<path d="M247.67 424.66L251.28 427.29L249.9 431.54L245.44 431.54L244.06 427.29Z" fill="none" stroke="#5a90d2" stroke-width="1.4"/>
<rect x="49.5" y="283.7" width="283.1" height="227.8" fill="none" stroke="#111" stroke-width="1.3"/>
<path d="M49.5 511.5v4M49.5 283.7v4M77.81 511.5v4M77.81 283.7v4M106.12 511.5v4M106.12 283.7v4M134.43 511.5v4M134.43 283.7v4M162.74 511.5v4M162.74 283.7v4M191.05 511.5v4M191.05 283.7v4M219.36 511.5v4M219.36 283.7v4M247.67 511.5v4M247.67 283.7v4M275.98 511.5v4M275.98 283.7v4M304.29 511.5v4M304.29 283.7v4M332.6 511.5v4M332.6 283.7v4M63.66 511.5v2.2M63.66 283.7v2.2M91.97 511.5v2.2M91.97 283.7v2.2M120.28 511.5v2.2M120.28 283.7v2.2M148.59 511.5v2.2M148.59 283.7v2.2M176.9 511.5v2.2M176.9 283.7v2.2M205.21 511.5v2.2M205.21 283.7v2.2M233.52 511.5v2.2M233.52 283.7v2.2M261.83 511.5v2.2M261.83 283.7v2.2M290.13 511.5v2.2M290.13 283.7v2.2M318.44 511.5v2.2M318.44 283.7v2.2" stroke="#111" stroke-width="1.1" fill="none"/>
<text x="49.5" y="527.1" text-anchor="middle" font-size="10.8">0</text>
<text x="77.81" y="527.1" text-anchor="middle" font-size="10.8">10</text>
<text x="106.12" y="527.1" text-anchor="middle" font-size="10.8">20</text>
<text x="134.43" y="527.1" text-anchor="middle" font-size="10.8">30</text>
<text x="162.74" y="527.1" text-anchor="middle" font-size="10.8">40</text>
<text x="191.05" y="527.1" text-anchor="middle" font-size="10.8">50</text>
<text x="219.36" y="527.1" text-anchor="middle" font-size="10.8">60</text>
<text x="247.67" y="527.1" text-anchor="middle" font-size="10.8">70</text>
<text x="275.98" y="527.1" text-anchor="middle" font-size="10.8">80</text>
<text x="304.29" y="527.1" text-anchor="middle" font-size="10.8">90</text>
<text x="332.6" y="527.1" text-anchor="middle" font-size="10.8">100</text>
<path d="M49.5 511.5h-4M332.6 511.5h-4M49.5 473.53h-4M332.6 473.53h-4M49.5 435.57h-4M332.6 435.57h-4M49.5 397.6h-4M332.6 397.6h-4M49.5 359.63h-4M332.6 359.63h-4M49.5 321.67h-4M332.6 321.67h-4M49.5 283.7h-4M332.6 283.7h-4M49.5 500.07h-2.2M332.6 500.07h-2.2M49.5 493.39h-2.2M332.6 493.39h-2.2M49.5 488.64h-2.2M332.6 488.64h-2.2M49.5 484.96h-2.2M332.6 484.96h-2.2M49.5 481.96h-2.2M332.6 481.96h-2.2M49.5 479.41h-2.2M332.6 479.41h-2.2M49.5 477.21h-2.2M332.6 477.21h-2.2M49.5 475.27h-2.2M332.6 475.27h-2.2M49.5 462.1h-2.2M332.6 462.1h-2.2M49.5 455.42h-2.2M332.6 455.42h-2.2M49.5 450.68h-2.2M332.6 450.68h-2.2M49.5 447h-2.2M332.6 447h-2.2M49.5 443.99h-2.2M332.6 443.99h-2.2M49.5 441.45h-2.2M332.6 441.45h-2.2M49.5 439.25h-2.2M332.6 439.25h-2.2M49.5 437.3h-2.2M332.6 437.3h-2.2M49.5 424.14h-2.2M332.6 424.14h-2.2M49.5 417.45h-2.2M332.6 417.45h-2.2M49.5 412.71h-2.2M332.6 412.71h-2.2M49.5 409.03h-2.2M332.6 409.03h-2.2M49.5 406.02h-2.2M332.6 406.02h-2.2M49.5 403.48h-2.2M332.6 403.48h-2.2M49.5 401.28h-2.2M332.6 401.28h-2.2M49.5 399.34h-2.2M332.6 399.34h-2.2M49.5 386.17h-2.2M332.6 386.17h-2.2M49.5 379.49h-2.2M332.6 379.49h-2.2M49.5 374.74h-2.2M332.6 374.74h-2.2M49.5 371.06h-2.2M332.6 371.06h-2.2M49.5 368.06h-2.2M332.6 368.06h-2.2M49.5 365.51h-2.2M332.6 365.51h-2.2M49.5 363.31h-2.2M332.6 363.31h-2.2M49.5 361.37h-2.2M332.6 361.37h-2.2M49.5 348.2h-2.2M332.6 348.2h-2.2M49.5 341.52h-2.2M332.6 341.52h-2.2M49.5 336.78h-2.2M332.6 336.78h-2.2M49.5 333.1h-2.2M332.6 333.1h-2.2M49.5 330.09h-2.2M332.6 330.09h-2.2M49.5 327.55h-2.2M332.6 327.55h-2.2M49.5 325.35h-2.2M332.6 325.35h-2.2M49.5 323.4h-2.2M332.6 323.4h-2.2M49.5 310.24h-2.2M332.6 310.24h-2.2M49.5 303.55h-2.2M332.6 303.55h-2.2M49.5 298.81h-2.2M332.6 298.81h-2.2M49.5 295.13h-2.2M332.6 295.13h-2.2M49.5 292.12h-2.2M332.6 292.12h-2.2M49.5 289.58h-2.2M332.6 289.58h-2.2M49.5 287.38h-2.2M332.6 287.38h-2.2M49.5 285.44h-2.2M332.6 285.44h-2.2" stroke="#111" stroke-width="1.1" fill="none"/>
<text x="40.7" y="516.7" text-anchor="end" font-size="10.8">10<tspan font-size="8.2" dy="-4.8">-4</tspan></text>
<text x="40.7" y="478.73" text-anchor="end" font-size="10.8">10<tspan font-size="8.2" dy="-4.8">-3</tspan></text>
<text x="40.7" y="440.77" text-anchor="end" font-size="10.8">10<tspan font-size="8.2" dy="-4.8">-2</tspan></text>
<text x="40.7" y="402.8" text-anchor="end" font-size="10.8">10<tspan font-size="8.2" dy="-4.8">-1</tspan></text>
<text x="40.7" y="364.83" text-anchor="end" font-size="10.8">10<tspan font-size="8.2" dy="-4.8">0</tspan></text>
<text x="40.7" y="326.87" text-anchor="end" font-size="10.8">10<tspan font-size="8.2" dy="-4.8">1</tspan></text>
<text x="40.7" y="288.9" text-anchor="end" font-size="10.8">10<tspan font-size="8.2" dy="-4.8">2</tspan></text>
<text x="191" y="543.6" text-anchor="middle" font-size="13.6">RH (%)</text>
<text transform="translate(13.8 397.6) rotate(-90)" text-anchor="middle" font-size="13.9">k (s<tspan font-size="10" dy="-5.6">-1</tspan><tspan dy="5.6">)</tspan></text>
<rect x="56" y="293.8" width="78.3" height="59.2" fill="#fff" stroke="#111" stroke-width="1.2"/>
<circle cx="66.5" cy="303.2" r="2.9" fill="none" stroke="#ec4148" stroke-width="1.4"/>
<text x="80" y="307.1" font-size="10.6">CN-OH</text>
<rect x="63.95" y="314.35" width="5.1" height="5.1" fill="none" stroke="#a66fe0" stroke-width="1.4"/>
<text x="80" y="320.8" font-size="10.6">NH2-NH2</text>
<path d="M66.5 333.85L70.1 327.75L62.9 327.75Z" fill="none" stroke="#35a763" stroke-width="1.4"/>
<text x="80" y="334.7" font-size="10.6">NO2-NH2</text>
<path d="M66.5 341.4L70.11 344.03L68.73 348.27L64.27 348.27L62.89 344.03Z" fill="none" stroke="#5a90d2" stroke-width="1.4"/>
<text x="80" y="348.8" font-size="10.6">DMA-NH2</text>
<path d="M393.4 424.45L676.4 380.07" stroke="#5a90d2" stroke-width="1.35" stroke-dasharray="3.1 2.15" fill="none" clip-path="url(#cd)"/>
<path d="M393.4 483.79L676.4 314.78" stroke="#ff6a10" stroke-width="1.35" stroke-dasharray="3.1 2.15" fill="none" clip-path="url(#cd)"/>
<path d="M393.4 486.47L676.4 296.39" stroke="#35a763" stroke-width="1.35" stroke-dasharray="3.1 2.15" fill="none" clip-path="url(#cd)"/>
<path d="M393.4 489.77L676.4 303.68" stroke="#2a6ce0" stroke-width="1.35" stroke-dasharray="3.1 2.15" fill="none" clip-path="url(#cd)"/>
<path d="M450 408.42L453.61 411.05L452.23 415.3L447.77 415.3L446.39 411.05Z" fill="none" stroke="#5a90d2" stroke-width="1.4"/>
<path d="M478.3 407.43L481.91 410.05L480.53 414.3L476.07 414.3L474.69 410.05Z" fill="none" stroke="#5a90d2" stroke-width="1.4"/>
<path d="M506.6 405.66L510.21 408.29L508.83 412.54L504.37 412.54L502.99 408.29Z" fill="none" stroke="#5a90d2" stroke-width="1.4"/>
<path d="M534.9 401.14L538.51 403.76L537.13 408.01L532.67 408.01L531.29 403.76Z" fill="none" stroke="#5a90d2" stroke-width="1.4"/>
<path d="M563.2 393.42L566.81 396.05L565.43 400.3L560.97 400.3L559.59 396.05Z" fill="none" stroke="#5a90d2" stroke-width="1.4"/>
<path d="M591.5 388.13L595.11 390.76L593.73 395L589.27 395L587.89 390.76Z" fill="none" stroke="#5a90d2" stroke-width="1.4"/>
<rect x="504.05" y="403.28" width="5.1" height="5.1" fill="none" stroke="#35a763" stroke-width="1.4"/>
<rect x="532.35" y="389.79" width="5.1" height="5.1" fill="none" stroke="#35a763" stroke-width="1.4"/>
<rect x="560.65" y="371.29" width="5.1" height="5.1" fill="none" stroke="#35a763" stroke-width="1.4"/>
<rect x="574.8" y="360.1" width="5.1" height="5.1" fill="none" stroke="#35a763" stroke-width="1.4"/>
<rect x="588.95" y="350.31" width="5.1" height="5.1" fill="none" stroke="#35a763" stroke-width="1.4"/>
<rect x="603.1" y="339.73" width="5.1" height="5.1" fill="none" stroke="#35a763" stroke-width="1.4"/>
<path d="M506.6 405.09L510.2 411.19L503 411.19Z" stroke-linejoin="miter" fill="none" stroke="#ff6a10" stroke-width="1.4"/>
<path d="M534.9 396.29L538.5 402.39L531.3 402.39Z" stroke-linejoin="miter" fill="none" stroke="#ff6a10" stroke-width="1.4"/>
<path d="M563.2 381.09L566.8 387.19L559.6 387.19Z" stroke-linejoin="miter" fill="none" stroke="#ff6a10" stroke-width="1.4"/>
<path d="M577.35 372.3L580.95 378.4L573.75 378.4Z" stroke-linejoin="miter" fill="none" stroke="#ff6a10" stroke-width="1.4"/>
<path d="M591.5 362.71L595.1 368.81L587.9 368.81Z" stroke-linejoin="miter" fill="none" stroke="#ff6a10" stroke-width="1.4"/>
<path d="M605.65 351.81L609.25 357.91L602.05 357.91Z" stroke-linejoin="miter" fill="none" stroke="#ff6a10" stroke-width="1.4"/>
<path d="M619.8 340.82L623.4 346.92L616.2 346.92Z" stroke-linejoin="miter" fill="none" stroke="#ff6a10" stroke-width="1.4"/>
<path d="M506.6 414.66L510.2 408.56L503 408.56Z" fill="none" stroke="#2a6ce0" stroke-width="1.4"/>
<path d="M534.9 400.29L538.5 394.19L531.3 394.19Z" fill="none" stroke="#2a6ce0" stroke-width="1.4"/>
<path d="M563.2 382.7L566.8 376.6L559.6 376.6Z" fill="none" stroke="#2a6ce0" stroke-width="1.4"/>
<path d="M577.35 373.5L580.95 367.4L573.75 367.4Z" fill="none" stroke="#2a6ce0" stroke-width="1.4"/>
<path d="M591.5 364.11L595.1 358.01L587.9 358.01Z" fill="none" stroke="#2a6ce0" stroke-width="1.4"/>
<path d="M605.65 350.42L609.25 344.32L602.05 344.32Z" fill="none" stroke="#2a6ce0" stroke-width="1.4"/>
<rect x="393.4" y="283.7" width="283" height="227.7" fill="none" stroke="#111" stroke-width="1.3"/>
<path d="M393.4 511.4v4M393.4 283.7v4M421.7 511.4v4M421.7 283.7v4M450 511.4v4M450 283.7v4M478.3 511.4v4M478.3 283.7v4M506.6 511.4v4M506.6 283.7v4M534.9 511.4v4M534.9 283.7v4M563.2 511.4v4M563.2 283.7v4M591.5 511.4v4M591.5 283.7v4M619.8 511.4v4M619.8 283.7v4M648.1 511.4v4M648.1 283.7v4M676.4 511.4v4M676.4 283.7v4M407.55 511.4v2.2M407.55 283.7v2.2M435.85 511.4v2.2M435.85 283.7v2.2M464.15 511.4v2.2M464.15 283.7v2.2M492.45 511.4v2.2M492.45 283.7v2.2M520.75 511.4v2.2M520.75 283.7v2.2M549.05 511.4v2.2M549.05 283.7v2.2M577.35 511.4v2.2M577.35 283.7v2.2M605.65 511.4v2.2M605.65 283.7v2.2M633.95 511.4v2.2M633.95 283.7v2.2M662.25 511.4v2.2M662.25 283.7v2.2" stroke="#111" stroke-width="1.1" fill="none"/>
<text x="393.4" y="527" text-anchor="middle" font-size="10.8">0</text>
<text x="421.7" y="527" text-anchor="middle" font-size="10.8">10</text>
<text x="450" y="527" text-anchor="middle" font-size="10.8">20</text>
<text x="478.3" y="527" text-anchor="middle" font-size="10.8">30</text>
<text x="506.6" y="527" text-anchor="middle" font-size="10.8">40</text>
<text x="534.9" y="527" text-anchor="middle" font-size="10.8">50</text>
<text x="563.2" y="527" text-anchor="middle" font-size="10.8">60</text>
<text x="591.5" y="527" text-anchor="middle" font-size="10.8">70</text>
<text x="619.8" y="527" text-anchor="middle" font-size="10.8">80</text>
<text x="648.1" y="527" text-anchor="middle" font-size="10.8">90</text>
<text x="676.4" y="527" text-anchor="middle" font-size="10.8">100</text>
<path d="M393.4 511.4h-4M676.4 511.4h-4M393.4 482.94h-4M676.4 482.94h-4M393.4 454.47h-4M676.4 454.47h-4M393.4 426.01h-4M676.4 426.01h-4M393.4 397.55h-4M676.4 397.55h-4M393.4 369.09h-4M676.4 369.09h-4M393.4 340.62h-4M676.4 340.62h-4M393.4 312.16h-4M676.4 312.16h-4M393.4 283.7h-4M676.4 283.7h-4M393.4 502.83h-2.2M676.4 502.83h-2.2M393.4 497.82h-2.2M676.4 497.82h-2.2M393.4 494.26h-2.2M676.4 494.26h-2.2M393.4 491.51h-2.2M676.4 491.51h-2.2M393.4 489.25h-2.2M676.4 489.25h-2.2M393.4 487.35h-2.2M676.4 487.35h-2.2M393.4 485.7h-2.2M676.4 485.7h-2.2M393.4 484.24h-2.2M676.4 484.24h-2.2M393.4 474.37h-2.2M676.4 474.37h-2.2M393.4 469.36h-2.2M676.4 469.36h-2.2M393.4 465.8h-2.2M676.4 465.8h-2.2M393.4 463.04h-2.2M676.4 463.04h-2.2M393.4 460.79h-2.2M676.4 460.79h-2.2M393.4 458.88h-2.2M676.4 458.88h-2.2M393.4 457.23h-2.2M676.4 457.23h-2.2M393.4 455.78h-2.2M676.4 455.78h-2.2M393.4 445.91h-2.2M676.4 445.91h-2.2M393.4 440.89h-2.2M676.4 440.89h-2.2M393.4 437.34h-2.2M676.4 437.34h-2.2M393.4 434.58h-2.2M676.4 434.58h-2.2M393.4 432.33h-2.2M676.4 432.33h-2.2M393.4 430.42h-2.2M676.4 430.42h-2.2M393.4 428.77h-2.2M676.4 428.77h-2.2M393.4 427.31h-2.2M676.4 427.31h-2.2M393.4 417.44h-2.2M676.4 417.44h-2.2M393.4 412.43h-2.2M676.4 412.43h-2.2M393.4 408.88h-2.2M676.4 408.88h-2.2M393.4 406.12h-2.2M676.4 406.12h-2.2M393.4 403.86h-2.2M676.4 403.86h-2.2M393.4 401.96h-2.2M676.4 401.96h-2.2M393.4 400.31h-2.2M676.4 400.31h-2.2M393.4 398.85h-2.2M676.4 398.85h-2.2M393.4 388.98h-2.2M676.4 388.98h-2.2M393.4 383.97h-2.2M676.4 383.97h-2.2M393.4 380.41h-2.2M676.4 380.41h-2.2M393.4 377.66h-2.2M676.4 377.66h-2.2M393.4 375.4h-2.2M676.4 375.4h-2.2M393.4 373.5h-2.2M676.4 373.5h-2.2M393.4 371.85h-2.2M676.4 371.85h-2.2M393.4 370.39h-2.2M676.4 370.39h-2.2M393.4 360.52h-2.2M676.4 360.52h-2.2M393.4 355.51h-2.2M676.4 355.51h-2.2M393.4 351.95h-2.2M676.4 351.95h-2.2M393.4 349.19h-2.2M676.4 349.19h-2.2M393.4 346.94h-2.2M676.4 346.94h-2.2M393.4 345.03h-2.2M676.4 345.03h-2.2M393.4 343.38h-2.2M676.4 343.38h-2.2M393.4 341.93h-2.2M676.4 341.93h-2.2M393.4 332.06h-2.2M676.4 332.06h-2.2M393.4 327.04h-2.2M676.4 327.04h-2.2M393.4 323.49h-2.2M676.4 323.49h-2.2M393.4 320.73h-2.2M676.4 320.73h-2.2M393.4 318.48h-2.2M676.4 318.48h-2.2M393.4 316.57h-2.2M676.4 316.57h-2.2M393.4 314.92h-2.2M676.4 314.92h-2.2M393.4 313.46h-2.2M676.4 313.46h-2.2M393.4 303.59h-2.2M676.4 303.59h-2.2M393.4 298.58h-2.2M676.4 298.58h-2.2M393.4 295.03h-2.2M676.4 295.03h-2.2M393.4 292.27h-2.2M676.4 292.27h-2.2M393.4 290.01h-2.2M676.4 290.01h-2.2M393.4 288.11h-2.2M676.4 288.11h-2.2M393.4 286.46h-2.2M676.4 286.46h-2.2M393.4 285h-2.2M676.4 285h-2.2" stroke="#111" stroke-width="1.1" fill="none"/>
<text x="385" y="516.6" text-anchor="end" font-size="10.8">10<tspan font-size="8.2" dy="-4.8">-6</tspan></text>
<text x="385" y="459.67" text-anchor="end" font-size="10.8">10<tspan font-size="8.2" dy="-4.8">-4</tspan></text>
<text x="385" y="402.75" text-anchor="end" font-size="10.8">10<tspan font-size="8.2" dy="-4.8">-2</tspan></text>
<text x="385" y="345.82" text-anchor="end" font-size="10.8">10<tspan font-size="8.2" dy="-4.8">0</tspan></text>
<text x="385" y="288.9" text-anchor="end" font-size="10.8">10<tspan font-size="8.2" dy="-4.8">2</tspan></text>
<text x="534.9" y="543.6" text-anchor="middle" font-size="13.6">RH (%)</text>
<text transform="translate(357.3 397.6) rotate(-90)" text-anchor="middle" font-size="13.9">k (s<tspan font-size="10" dy="-5.6">-1</tspan><tspan dy="5.6">)</tspan></text>
<rect x="400.1" y="293.6" width="101.6" height="59.5" fill="#fff" stroke="#111" stroke-width="1.2"/>
<path d="M411.3 300.35L414.9 306.45L407.7 306.45Z" stroke-linejoin="miter" fill="none" stroke="#ff6a10" stroke-width="1.4"/>
<text x="425" y="307.3" font-size="10.6">DMA-OH</text>
<path d="M411.3 313.6L414.91 316.23L413.53 320.47L409.07 320.47L407.69 316.23Z" fill="none" stroke="#5a90d2" stroke-width="1.4"/>
<text x="425" y="321" font-size="10.6">DMA-NH2</text>
<rect x="408.75" y="327.75" width="5.1" height="5.1" fill="none" stroke="#35a763" stroke-width="1.4"/>
<text x="425" y="334.2" font-size="10.6">DMA-COOH</text>
<path d="M411.3 347.05L414.9 340.95L407.7 340.95Z" fill="none" stroke="#2a6ce0" stroke-width="1.4"/>
<text x="425" y="347.9" font-size="10.6">DMA-m-COOH</text>
<text x="1.2" y="14.6" font-size="16.5" font-weight="bold">a</text>
<text x="352.2" y="11.9" font-size="16.5" font-weight="bold">b</text>
<text x="7.6" y="290.2" font-size="16.5" font-weight="bold">c</text>
<text x="351.8" y="286.8" font-size="16.5" font-weight="bold">d</text>
</svg>
</body></html>
